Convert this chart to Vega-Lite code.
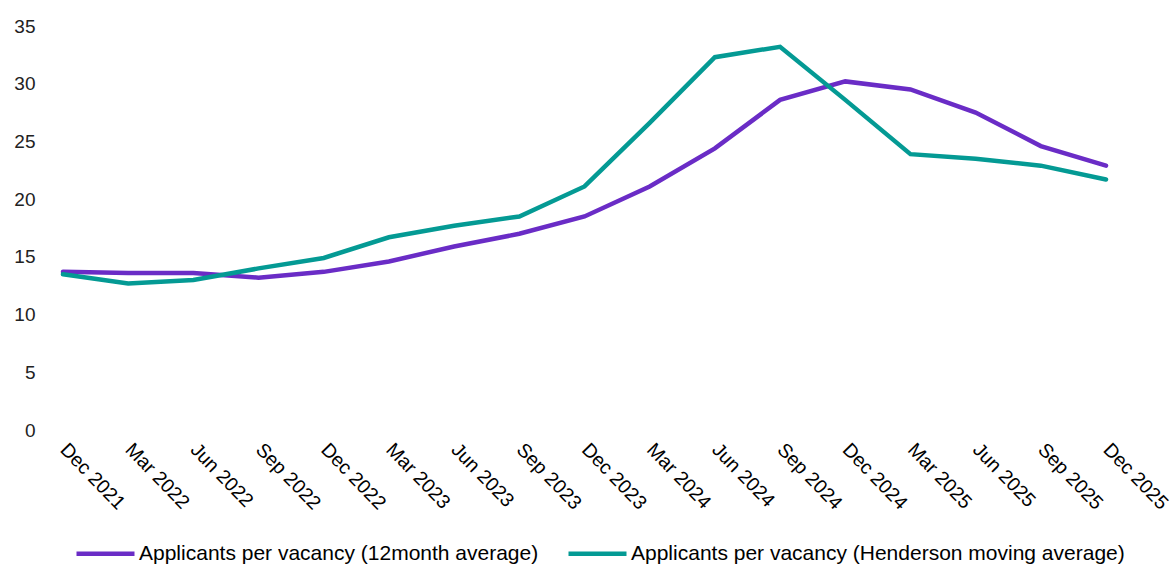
{
  "$schema": "https://vega.github.io/schema/vega-lite/v6.json",
  "autosize": "none",
  "width": 1079,
  "height": 404,
  "padding": {"left": 45, "top": 26, "right": 50, "bottom": 134},
  "background": "white",
  "config": {
    "view": {"stroke": null},
    "font": "Liberation Sans"
  },
  "data": {
    "values": [
      {"q": "Dec 2021", "s": "Applicants per vacancy (12month average)", "v": 13.7},
      {"q": "Mar 2022", "s": "Applicants per vacancy (12month average)", "v": 13.6},
      {"q": "Jun 2022", "s": "Applicants per vacancy (12month average)", "v": 13.6},
      {"q": "Sep 2022", "s": "Applicants per vacancy (12month average)", "v": 13.2},
      {"q": "Dec 2022", "s": "Applicants per vacancy (12month average)", "v": 13.7},
      {"q": "Mar 2023", "s": "Applicants per vacancy (12month average)", "v": 14.6},
      {"q": "Jun 2023", "s": "Applicants per vacancy (12month average)", "v": 15.9},
      {"q": "Sep 2023", "s": "Applicants per vacancy (12month average)", "v": 17.0},
      {"q": "Dec 2023", "s": "Applicants per vacancy (12month average)", "v": 18.5},
      {"q": "Mar 2024", "s": "Applicants per vacancy (12month average)", "v": 21.1},
      {"q": "Jun 2024", "s": "Applicants per vacancy (12month average)", "v": 24.4},
      {"q": "Sep 2024", "s": "Applicants per vacancy (12month average)", "v": 28.6},
      {"q": "Dec 2024", "s": "Applicants per vacancy (12month average)", "v": 30.2},
      {"q": "Mar 2025", "s": "Applicants per vacancy (12month average)", "v": 29.5},
      {"q": "Jun 2025", "s": "Applicants per vacancy (12month average)", "v": 27.5},
      {"q": "Sep 2025", "s": "Applicants per vacancy (12month average)", "v": 24.6},
      {"q": "Dec 2025", "s": "Applicants per vacancy (12month average)", "v": 22.9},
      {"q": "Dec 2021", "s": "Applicants per vacancy (Henderson moving average)", "v": 13.5},
      {"q": "Mar 2022", "s": "Applicants per vacancy (Henderson moving average)", "v": 12.7},
      {"q": "Jun 2022", "s": "Applicants per vacancy (Henderson moving average)", "v": 13.0},
      {"q": "Sep 2022", "s": "Applicants per vacancy (Henderson moving average)", "v": 14.0},
      {"q": "Dec 2022", "s": "Applicants per vacancy (Henderson moving average)", "v": 14.9},
      {"q": "Mar 2023", "s": "Applicants per vacancy (Henderson moving average)", "v": 16.7},
      {"q": "Jun 2023", "s": "Applicants per vacancy (Henderson moving average)", "v": 17.7},
      {"q": "Sep 2023", "s": "Applicants per vacancy (Henderson moving average)", "v": 18.5},
      {"q": "Dec 2023", "s": "Applicants per vacancy (Henderson moving average)", "v": 21.1},
      {"q": "Mar 2024", "s": "Applicants per vacancy (Henderson moving average)", "v": 26.6},
      {"q": "Jun 2024", "s": "Applicants per vacancy (Henderson moving average)", "v": 32.3},
      {"q": "Sep 2024", "s": "Applicants per vacancy (Henderson moving average)", "v": 33.2},
      {"q": "Dec 2024", "s": "Applicants per vacancy (Henderson moving average)", "v": 28.6},
      {"q": "Mar 2025", "s": "Applicants per vacancy (Henderson moving average)", "v": 23.9},
      {"q": "Jun 2025", "s": "Applicants per vacancy (Henderson moving average)", "v": 23.5},
      {"q": "Sep 2025", "s": "Applicants per vacancy (Henderson moving average)", "v": 22.9},
      {"q": "Dec 2025", "s": "Applicants per vacancy (Henderson moving average)", "v": 21.7}
    ]
  },
  "mark": {"type": "line", "strokeWidth": 4.5, "strokeJoin": "miter", "strokeCap": "round"},
  "encoding": {
    "x": {
      "field": "q",
      "type": "ordinal",
      "sort": null,
      "scale": {"type": "point", "padding": 0.276},
      "axis": {
        "title": null,
        "domain": false,
        "ticks": false,
        "labelAngle": 46,
        "labelAlign": "left",
        "labelBaseline": "middle",
        "labelPadding": 16,
        "labelFontSize": 19.5,
        "labelColor": "#000000",
        "labelFont": "Liberation Sans"
      }
    },
    "y": {
      "field": "v",
      "type": "quantitative",
      "scale": {"domain": [0, 35], "nice": false, "zero": true},
      "axis": {
        "title": null,
        "domain": false,
        "ticks": false,
        "grid": false,
        "values": [0, 5, 10, 15, 20, 25, 30, 35],
        "labelPadding": 10,
        "labelFontSize": 19,
        "labelColor": "#222222",
        "labelFont": "Liberation Sans"
      }
    },
    "color": {
      "field": "s",
      "type": "nominal",
      "scale": {
        "domain": ["Applicants per vacancy (12month average)", "Applicants per vacancy (Henderson moving average)"],
        "range": ["#6A2CC6", "#049A94"]
      },
      "legend": {
        "title": null,
        "orient": "none",
        "legendX": 29,
        "legendY": 496,
        "direction": "horizontal",
        "symbolType": "stroke",
        "symbolSize": 3364,
        "symbolStrokeWidth": 4.5,
        "symbolOffset": 0,
        "labelFontSize": 21,
        "labelColor": "#000000",
        "labelFont": "Liberation Sans",
        "labelOffset": 2,
        "columnPadding": 20,
        "labelLimit": 700
      }
    }
  }
}
